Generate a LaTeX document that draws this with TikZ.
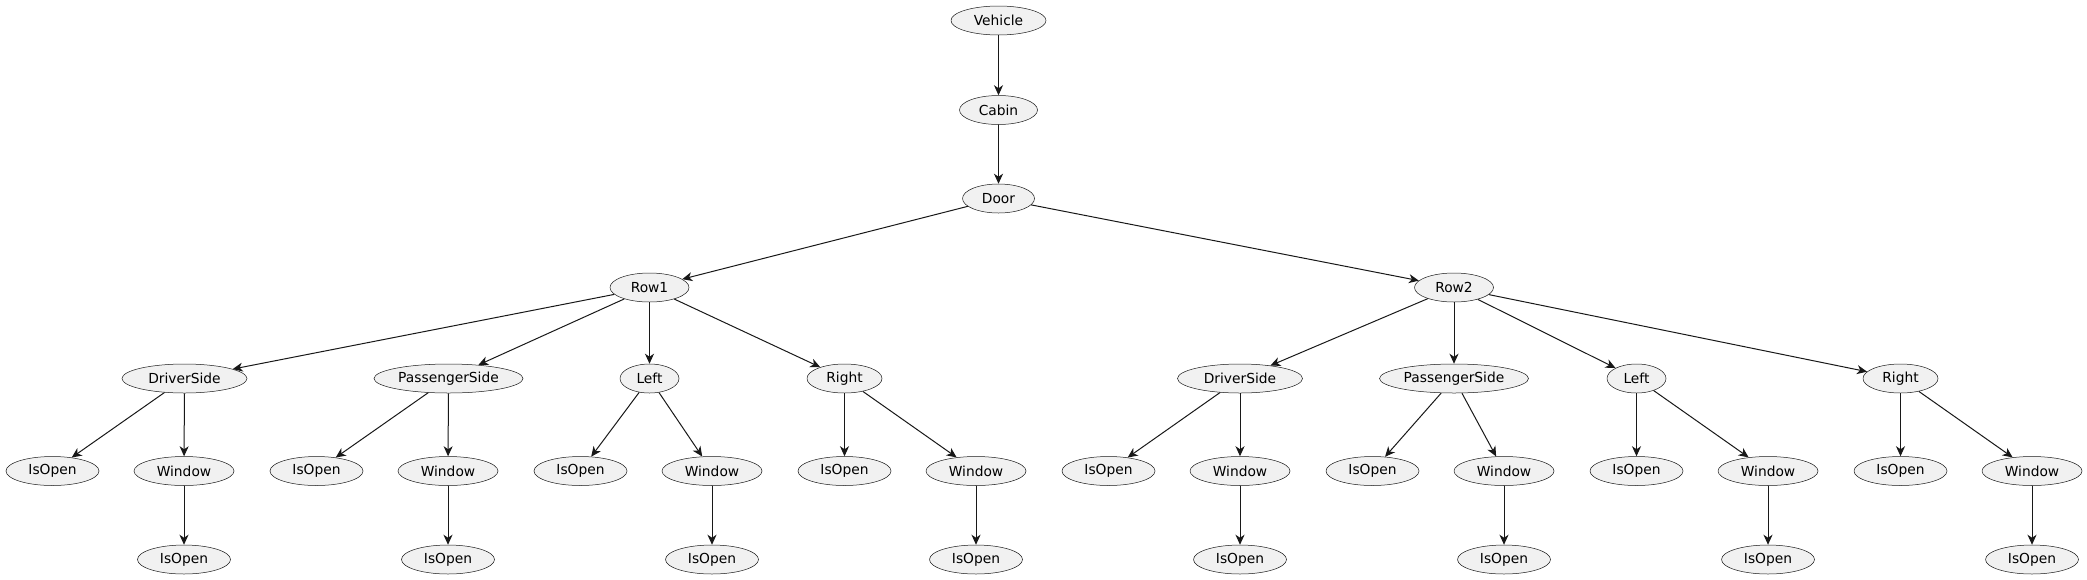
\documentclass[tikz,border=0pt]{standalone}
\usepackage{fontspec}
\setmainfont{DejaVu Sans}
\usetikzlibrary{shapes.geometric,arrows.meta}
\definecolor{nodefill}{HTML}{F1F1F1}
\definecolor{ink}{HTML}{181818}

\tikzset{
	part/.style={ellipse, draw=ink, line width=0.5pt, fill=nodefill, inner sep=0pt,
		minimum height=29pt, font=\fontsize{13.8}{16}\selectfont},
	link/.style={draw=ink, line width=1pt, -{Stealth[length=10pt,width=9pt,inset=3pt]}}
}

\begin{document}
\begin{tikzpicture}[x=1pt,y=-1pt]
	\useasboundingbox (0,0) rectangle (2087,579);
	\node[part, minimum width=95] (vehicle) at (998.5, 20.5) {Vehicle};
	\node[part, minimum width=78] (cabin) at (998.5, 110) {Cabin};
	\node[part, minimum width=72] (door) at (998.5, 198.5) {Door};
	\node[part, minimum width=79] (r1) at (649.5, 287.5) {Row1};
	\node[part, minimum width=79] (r2) at (1454, 287.5) {Row2};
	\draw[link] (vehicle) -- (cabin);
	\draw[link] (cabin) -- (door);
	\draw[link] (door) -- (r1);
	\draw[link] (door) -- (r2);
	% one group per side, with its IsOpen and its Window
	\foreach
	\side/\sidename/\pw/\sx/\k/\row
	in
	{
		r1d/DriverSide/125/184.5/0/r1,
		r1p/PassengerSide/149/448.5/1/r1,
		r1l/Left/59/649.5/2/r1,
		r1r/Right/75/844.5/3/r1,
		r2d/DriverSide/125/1240/4/r2,
		r2p/PassengerSide/149/1454/5/r2,
		r2l/Left/59/1636.5/6/r2,
		r2r/Right/75/1900.5/7/r2%
	}
	{
		\node[part, minimum width=\pw] (\side) at (\sx, 378.5) {\sidename};
		\node[part, minimum width=93] (\side-open) at (52.5+264*\k, 471) {IsOpen};
		\node[part, minimum width=100] (\side-win) at (184+264*\k, 471) {Window};
		\node[part, minimum width=93] (\side-winopen) at (184+264*\k, 559.5) {IsOpen};
		\draw[link] (\row) -- (\side);
		\draw[link] (\side) -- (\side-open);
		\draw[link] (\side) -- (\side-win);
		\draw[link] (\side-win) -- (\side-winopen);
	}
\end{tikzpicture}
\end{document}
